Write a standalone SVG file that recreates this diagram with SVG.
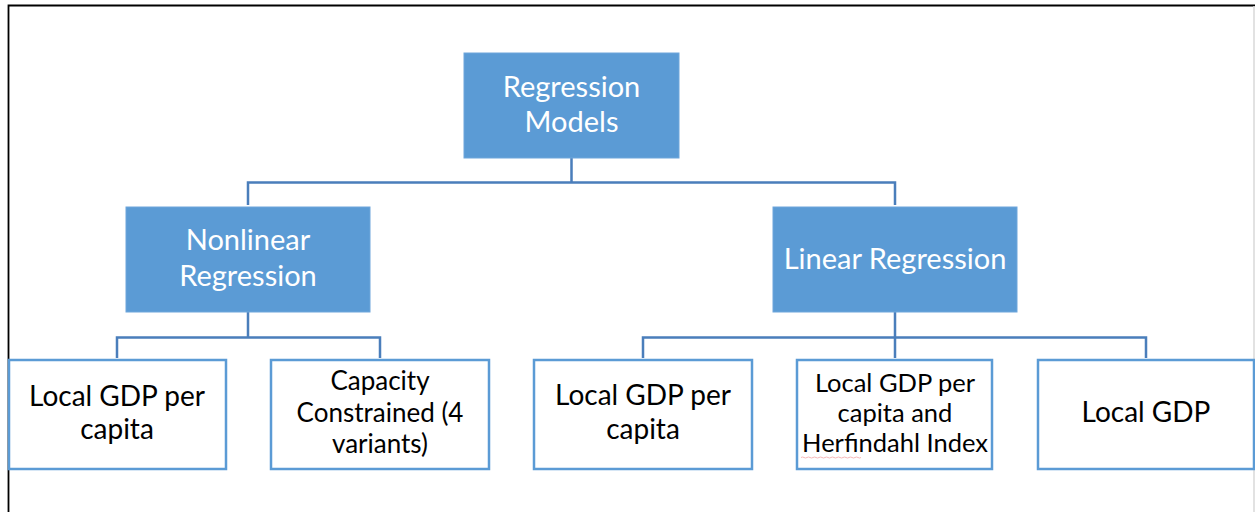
<svg xmlns="http://www.w3.org/2000/svg" width="1255" height="512" viewBox="0 0 1255 512">
<style>
.top{fill:#5B9BD5;stroke:#6FA6DB;stroke-width:1}
.leaf{fill:#fff;stroke:#5B9BD5;stroke-width:2.5}
.conn{fill:none;stroke:#4A7EBB;stroke-width:2.5}
text{font-family:Lato,"Open Sans","Liberation Sans",sans-serif;text-anchor:middle}
.w{fill:#fff;font-size:29px}
.b{fill:#000;font-size:28px}
.s{fill:#000;font-size:26px}
.h{fill:#000;font-size:25.5px}
</style>
<rect x="0" y="0" width="1255" height="512" fill="#fff"/>
<path d="M8.5 512 V5.5 H1255" fill="none" stroke="#000" stroke-width="1.8"/>
<line x1="1254" y1="6" x2="1254" y2="512" stroke="#d9d9d9" stroke-width="1.5"/>
<g id="connectors">
<path class="conn" d="M571.5 158 V182.5 M248 205 V182.5 H895 V205"/>
<path class="conn" d="M248 312 V337.5 M117 358 V337.5 H380 V358"/>
<path class="conn" d="M895 312 V337.5 M643 358 V337.5 H1146 V358 M895 337.5 V358"/>
</g>
<g id="n-root">
<rect class="top" x="464" y="53" width="215" height="105"/>
<text class="w" x="571.5" y="97">Regression</text>
<text class="w" x="571.5" y="132">Models</text>
</g>
<g id="n-nonlinear">
<rect class="top" x="126" y="207" width="244" height="105"/>
<text class="w" x="248" y="250">Nonlinear</text>
<text class="w" x="248" y="286">Regression</text>
</g>
<g id="n-linear">
<rect class="top" x="773" y="207" width="244" height="105"/>
<text class="w" x="895" y="269">Linear Regression</text>
</g>
<g id="n-nl-gdp">
<rect class="leaf" x="9" y="360" width="217" height="109"/>
<text class="b" x="117" y="406">Local GDP per</text>
<text class="b" x="117" y="439">capita</text>
</g>
<g id="n-capacity">
<rect class="leaf" x="271" y="360" width="218" height="109"/>
<text class="s" x="380" y="390">Capacity</text>
<text class="s" x="380" y="422">Constrained (4</text>
<text class="s" x="380" y="453">variants)</text>
</g>
<g id="n-lin-gdp">
<rect class="leaf" x="534" y="360" width="218" height="109"/>
<text class="b" x="643" y="405">Local GDP per</text>
<text class="b" x="643" y="439">capita</text>
</g>
<g id="n-herf">
<rect class="leaf" x="797" y="360" width="195" height="109"/>
<text class="h" x="895" y="392">Local GDP per</text>
<text class="h" x="895" y="422">capita and</text>
<text class="h" x="895" y="452">Herfindahl Index</text>
<path d="M801 457.5 q1.5 -1 3 0 t3 0 t3 0 t3 0 t3 0 t3 0 t3 0 t3 0 t3 0 t3 0 t3 0 t3 0 t3 0 t3 0 t3 0 t3 0 t3 0 t3 0 t3 0 t3 0" fill="none" stroke="#f4a6a6" stroke-width="0.8"/>
</g>
<g id="n-gdp">
<rect class="leaf" x="1038" y="360" width="216" height="109"/>
<text class="b" x="1146" y="422">Local GDP</text>
</g>
</svg>
